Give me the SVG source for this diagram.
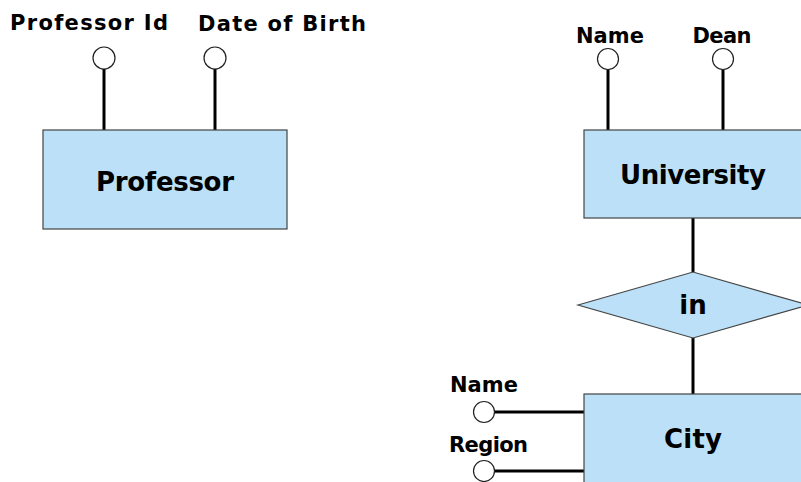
<svg xmlns="http://www.w3.org/2000/svg" width="801" height="482" viewBox="0 0 801 482">
<style>
.ent{fill:#bbe0f7;stroke:#444;stroke-width:1.2}
.att{fill:#fff;stroke:#222;stroke-width:1.2}
.con{stroke:#000;stroke-width:3;fill:none}
text{font-family:"DejaVu Sans","Liberation Sans",sans-serif;font-weight:bold;fill:#000}
.lbl{font-size:21px}
.big{font-size:26px;text-anchor:middle}
</style>
<g id="connectors">
<line class="con" x1="104" y1="69" x2="104" y2="130"/>
<line class="con" x1="215" y1="69" x2="215" y2="130"/>
<line class="con" x1="608" y1="69" x2="608" y2="130"/>
<line class="con" x1="723" y1="69" x2="723" y2="130"/>
<line class="con" x1="693" y1="218" x2="693" y2="272"/>
<line class="con" x1="693" y1="338" x2="693" y2="394"/>
<line class="con" x1="495" y1="412" x2="584" y2="412"/>
<line class="con" x1="495" y1="471" x2="584" y2="471"/>
</g>
<g id="professor">
<rect class="ent" x="43" y="130" width="244" height="99"/>
<text class="big" x="165" y="191" textLength="138">Professor</text>
</g>
<g id="attr-professor-id">
<circle class="att" cx="104" cy="58" r="11"/>
<text class="lbl" x="10" y="30" textLength="158">Professor Id</text>
</g>
<g id="attr-date-of-birth">
<circle class="att" cx="215" cy="58" r="11"/>
<text class="lbl" x="198" y="31" textLength="168">Date of Birth</text>
</g>
<g id="university">
<rect class="ent" x="584" y="130" width="230" height="88"/>
<text class="big" x="693" y="184" textLength="146">University</text>
</g>
<g id="attr-uni-name">
<circle class="att" cx="608" cy="59" r="10.5"/>
<text class="lbl" x="610" y="43" text-anchor="middle" textLength="68">Name</text>
</g>
<g id="attr-dean">
<circle class="att" cx="723" cy="59" r="10.5"/>
<text class="lbl" x="722" y="43" text-anchor="middle" textLength="59">Dean</text>
</g>
<g id="in">
<polygon class="ent" points="578,305 693,272 808,305 693,338"/>
<text class="big" x="693" y="314">in</text>
</g>
<g id="city">
<rect class="ent" x="584" y="394" width="230" height="100"/>
<text class="big" x="693" y="448" textLength="58">City</text>
</g>
<g id="attr-city-name">
<circle class="att" cx="484" cy="412" r="10.5"/>
<text class="lbl" x="450" y="392" textLength="68">Name</text>
</g>
<g id="attr-region">
<circle class="att" cx="484" cy="471" r="10.5"/>
<text class="lbl" x="449" y="452" textLength="79">Region</text>
</g>
</svg>
